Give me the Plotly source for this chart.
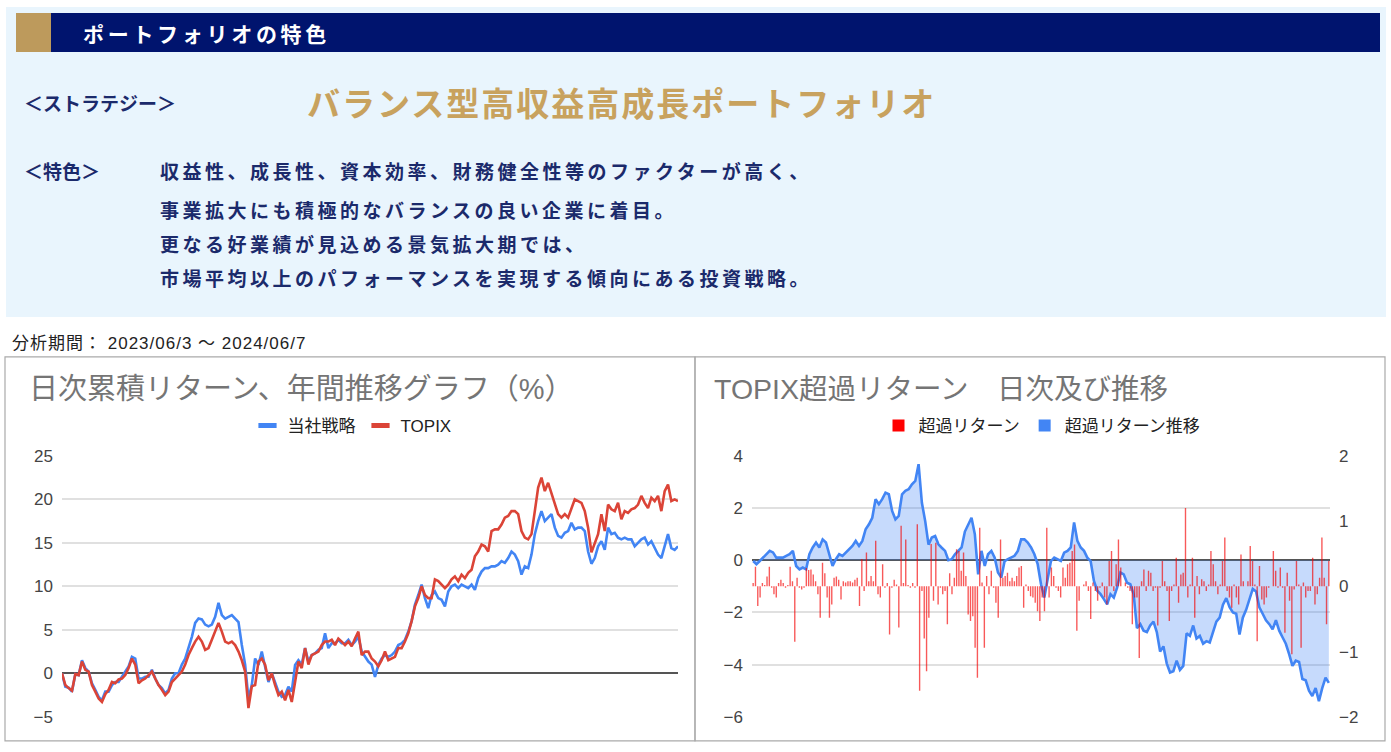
import numpy as np
import plotly.graph_objects as go

# ---------------- data ----------------
# 日次累積リターン (%) : 当社戦略 / TOPIX  (sampled along the year)
strategy = [
    0, -1.55, -1.65, -2.1, -0.1, -0.2, 1.5, 0.6, 0.2, -1.15,
    -1.9, -2.7, -3.1, -2.1, -2.1, -1.35, -1.0, -1.0, -0.4, 0.2,
    0.8, 1.9, 1.7, -0.6, -0.6, -0.4, -0.4, 0.4, -0.6, -1.35,
    -1.7, -2.3, -1.9, -0.6, 0, 0, 1.0, 1.7, 2.9, 4.2,
    5.8, 6.3, 6.2, 5.6, 5.4, 5.6, 6.5, 8.1, 6.7, 6.3,
    6.5, 6.7, 6.3, 5.9, 3.25, 1.0, -2.9, -1.35, 1.7, 0.95,
    2.5, 0.6, -1.0, 0, -1.0, -2.1, -2.7, -2.5, -1.55, -2.1,
    0.95, 1.5, 1.0, 2.9, 1.35, 2.1, 2.3, 2.7, 2.9, 4.6,
    2.9, 3.45, 3.45, 3.85, 3.45, 3.45, 3.85, 3.25, 3.65, 4.2,
    2.5, 1.9, 1.35, 1.0,
    -0.4, 0.95, 1.7, 2.1, 1.9, 2.1, 2.5, 3.25, 3.45, 3.85,
    4.8, 6.0, 7.9, 9.0, 10.2, 8.65, 7.5, 9.0, 9.4, 8.65,
    8.45, 7.7, 9.4, 10.0, 10.2, 9.8, 10.2, 10.0, 9.8, 10.2,
    9.6, 10.95, 11.7, 12.1, 12.1, 12.3, 12.3, 12.5, 12.9, 12.7,
    13.25, 14.0, 13.65, 12.9, 11.35, 12.3, 12.1, 13.65, 16.0, 17.5,
    18.65, 17.5, 17.9, 18.3, 16.75, 15.8, 15.6, 16.15, 16.35, 17.3,
    16.55, 16.75, 16.75, 16.35, 14.0, 12.6, 13.25, 14.6, 15.2, 14.2,
    16.75, 16.0, 16.15, 15.6, 15.4, 15.6, 15.4, 15.4, 14.6, 15.0,
    15.4, 15.6, 14.8, 15.2, 14.4, 13.65, 13.25, 14.8, 16.0, 14.4,
    14.2, 14.6,
]
topix = [
    0, -1.35, -1.7, -2.0, -0.1, -0.2, 1.35, 0.4, 0.2, -1.35,
    -2.1, -2.9, -3.3, -2.4, -1.9, -1.0, -1.15, -0.7, -0.6, -0.2,
    0.6, 1.7, 1.0, -1.15, -0.8, -0.6, -0.2, 0.2, -0.6, -1.35,
    -1.9, -2.5, -2.1, -1.0, -0.6, -0.2, 0.2, 1.0, 2.1, 2.9,
    3.65, 4.2, 3.65, 2.7, 2.9, 3.85, 4.8, 5.8, 4.8, 3.65,
    3.45, 3.65, 3.25, 2.5, 1.5, 0.2, -4.0, -1.5, -1.35, 1.35,
    1.7, 1.0, -0.8, 0, -1.35, -2.5, -2.1, -3.1, -1.9, -3.3,
    -1.0, 1.35, 0.6, 2.9, 1.0, 2.1, 2.3, 2.5, 3.25, 3.65,
    3.65, 3.85, 3.25, 4.0, 3.65, 3.25, 3.65, 3.1, 4.0, 4.8,
    2.1, 2.5, 2.5, 1.7,
    1.35, 0.8, 1.5, 2.5, 1.5, 1.7, 1.9, 2.9, 2.9, 3.65,
    4.6, 6.0, 7.7, 8.65, 10.0, 9.0, 8.65, 8.65, 10.8, 10.6,
    10.2, 9.8, 10.2, 10.8, 11.15, 10.6, 11.35, 10.95, 11.55, 11.9,
    13.45, 14.0, 14.8, 14.6, 14.0, 16.35, 16.55, 16.55, 17.1, 17.9,
    18.1, 18.65, 18.65, 18.3, 16.35, 15.6, 15.4, 16.0, 18.65, 21.35,
    22.5, 20.95, 21.9, 20.6, 19.4, 18.3, 17.9, 18.3, 17.9, 19.0,
    20.0, 19.8, 19.6, 18.65, 16.75, 13.9, 15.0, 16.0, 18.3, 16.35,
    19.4, 18.85, 18.65, 19.6, 17.7, 18.65, 18.45, 18.85, 19.0, 19.4,
    20.4, 19.6, 19.0, 20.2, 19.8, 20.4, 18.65, 20.95, 21.7, 19.8,
    20.0, 19.8,
]

# TOPIX超過リターン 推移 (left axis)
excess_trend = [
    -0.03, -0.15, -0.03, 0.1, 0.23, 0.36, 0.3, 0.1, 0.1, 0.1,
    0.17, 0.23, 0.36, -0.22, -0.35, -0.28, -0.35, 0.23, 0.49, 0.68,
    0.49, 0.8, 0.68, 0.23, -0.22, 0.04, 0.23, 0.17, 0.3, 0.42,
    0.55, 0.74, 0.55, 0.74, 1.19, 1.38, 1.63, 2.34, 2.15, 2.34,
    2.59, 2.53, 1.89, 1.57, 1.7, 2.53, 2.66, 2.72, 2.91, 3.04,
    3.68, 2.2, 1.5, 0.6, 0.87, 0.93, 0.61,
    0.48, 0.36, 0, 0.04, 0.23, 0.36, 0.49, 1.1, 1.38, 1.63,
    1.0, -0.54, 0.36, -0.22, 0.23, 0.36, 0.1, -0.47, -0.66, -0.03,
    0.04, 0.1, 0.17, 0.36, 0.8, 0.8, 0.68, 0.49, 0.23, -0.15,
    -0.92, -1.43, -0.73, -0.03, 0.1, 0.04, -0.03, 0.29, 0.36, 0.49,
    1.45, 0.74, 0.49, 0.36, 0.1, -0.03, -0.79, -1.17, -1.3, -1.49,
    -1.69, -1.3, -1.43, -1.05, -0.47, -0.54, -0.86, -0.92, -1.3, -2.6,
    -2.45, -2.7, -2.75, -2.5, -2.35, -2.75, -3.5, -3.3, -3.95, -4.3,
    -4.25, -3.85, -4.2, -4.05, -2.8, -2.9, -2.5, -3.0, -2.9, -3.2,
    -3.1, -3.15, -2.75, -2.35, -2.2, -1.7, -1.45, -1.8, -2.0, -2.05,
    -2.85, -2.2, -1.9, -1.45, -1.1, -1.2, -1.8, -2.05, -2.3, -2.45,
    -2.65, -2.3, -2.7, -2.95, -3.2, -3.6, -4.05, -3.85, -3.9, -4.55,
    -4.6, -5.0, -5.2, -4.9, -5.4, -4.9, -4.5, -4.7,
]

# 超過リターン 日次 (right axis), one per trading day
excess_daily = [
    0.05, 0.3, -0.3, -0.17, 0.05, 0.02, 0.15, 0.3, -0.02, -0.12,
    -0.17, 0.05, 0.1, 0.05, -0.02, 0.02, 0.3, 0.08, -0.85, 0.13,
    -0.02, -0.05, -0.02, 0.28, 0.25, 0.26, 0.18, 0.08, -0.12, -0.48,
    0.36, 0.2, -0.17, -0.48, -0.28, 0.13, 0.15, 0.1, -0.2, 0.08,
    0.06, 0.08, 0.08, 0.06, 0.1, 0.13, -0.3, 0.42, -0.07, 0.52,
    0.08, 0.16, 0.08, 0.7, -0.12, -0.17, 0.34, -0.02, 0.05, -0.74,
    -0.02, 0.1, 0.03, -0.63, 0.93, 0.05, 0.72, 0.02, -0.02, 0.05,
    -0.02, 0.95, -1.6, -0.07, -0.8, -1.3, -0.48, 0.65, -0.22, 0.67,
    -0.28, -0.02, -0.12, -0.07,
    -0.58, 0.2, -0.12, 0.13, 0.57, 0.54, 0.24, 0.52, 0.16, -0.43,
    -0.53, -0.46, -0.94, -1.4, 0.9, 0.06, -0.94, 0.16, -0.12, 0.24,
    -0.02, -0.25, -0.48, 0.72, 0.13, 0.16, 0.21, 0.08, 0.13, 0.08,
    0.16, 0.29, 0.31, -0.33, 0.03, -0.07, -0.15, -0.17, -0.25, -0.38,
    -0.53, -0.17, -0.38, 0.9, -0.17, 0.29, 0.16, -0.02, -0.07, -0.17,
    0.29, 0.13, 0.34, 0.36, 0.54, 0.64, -0.68, -0.22, 0.0, 0.03,
    0.08, -0.07, -0.5, 0.06, -0.07, -0.22, -0.02, 0.06, -0.17, -0.28,
    0.39, 0.54, -0.07, 0.34, 0.72, 0.29, 0.0, 0.06, -0.02, -0.07,
    -0.58, -0.17, -0.17, -1.1,
    0.08, 0.26, -0.07, 0.24, 0.21, -0.07, -0.02, -0.6, -0.02, 0.39,
    0.08, -0.07, -0.53, -0.07, 0.03, 0.44, -0.25, 0.18, 0.21, 1.2,
    -0.17, 0.03, 0.44, -0.48, 0.16, -0.12, 0.11, 0.08, -0.07, 0.03,
    0.54, 0.34, 0.08, -0.12, 0.03, 0.39, 0.75, -0.07, -0.17, -0.33,
    0.03, -0.17, -0.28, 0.49, 0.08, 0.0, 0.08, 0.62, 0.39, 0.03,
    -0.84, 0.31, -0.2, -0.28, -0.17, -0.02, 0.0, 0.54, 0.24, -0.02,
    0.29, -0.02, -0.71, 0.21, -0.22, -1.04, -0.05, 0.39, 0.03, -0.94,
    0.06, -0.17, -0.07, -0.07, 0.44, -0.28, -0.12, 0.13, 0.75, 0.13,
    -0.58, 0.39,
]

n_days = len(excess_daily)
days = np.arange(n_days)
left_x = np.linspace(0, n_days - 1, len(strategy))
trend_x = np.linspace(0, n_days - 1, len(excess_trend))

left_ticks = [-5, 0, 5, 10, 15, 20, 25]
right_left_ticks = [-6, -4, -2, 0, 2, 4]
right_right_ticks = [-2, -1, 0, 1, 2]

header_title = "ポートフォリオの特色"
strategy_label = "＜ストラテジー＞"
strategy_name = "バランス型高収益高成長ポートフォリオ"
feature_label = "＜特色＞"
feature_lines = [
    "収益性、成長性、資本効率、財務健全性等のファクターが高く、",
    "事業拡大にも積極的なバランスの良い企業に着目。",
    "更なる好業績が見込める景気拡大期では、",
    "市場平均以上のパフォーマンスを実現する傾向にある投資戦略。",
]
period_text = "分析期間： 2023/06/3 ～ 2024/06/7"
left_title = "日次累積リターン、年間推移グラフ（%）"
right_title = "TOPIX超過リターン　日次及び推移"

# ---------------- layout helpers ----------------
W, H = 1391, 752
def px(x):
    return x / W
def py(y):
    # vertical placement (pixel from top -> paper)
    yy = (y - 8) / 0.975
    yy = min(max(yy, -2), H + 2)
    return 1 - yy / H

JP = "Noto Sans CJK JP, sans-serif"
LAT = "Liberation Sans, Arial, Noto Sans CJK JP, sans-serif"
NAVY = "#1b2a6b"
BLUE = "#4285f4"
RED = "#db4437"

fig = go.Figure()

fig.add_trace(go.Scatter(x=left_x, y=strategy, mode="lines", name="当社戦略",
                         line=dict(color=BLUE, width=2.6), xaxis="x", yaxis="y",
                         showlegend=False))
fig.add_trace(go.Scatter(x=left_x, y=topix, mode="lines", name="TOPIX",
                         line=dict(color=RED, width=2.6), xaxis="x", yaxis="y",
                         showlegend=False))

fig.add_trace(go.Scatter(x=trend_x, y=excess_trend, mode="lines", name="超過リターン推移",
                         line=dict(color=BLUE, width=2.6), fill="tozeroy",
                         fillcolor="rgba(66,133,244,0.3)", xaxis="x2", yaxis="y2",
                         showlegend=False))
fig.add_trace(go.Bar(x=days, y=excess_daily, name="超過リターン",
                     marker=dict(color="rgba(245,0,0,0.65)", line=dict(width=0)),
                     width=0.6, xaxis="x2", yaxis="y3", showlegend=False))

# legend-only entries (Google-Charts style legend keys)
fig.add_trace(go.Scatter(x=[None], y=[None], mode="markers", name="当社戦略",
                         marker=dict(symbol="line-ew", size=13, line=dict(width=5, color=BLUE)),
                         xaxis="x", yaxis="y", legend="legend"))
fig.add_trace(go.Scatter(x=[None], y=[None], mode="markers", name="TOPIX",
                         marker=dict(symbol="line-ew", size=13, line=dict(width=5, color=RED)),
                         xaxis="x", yaxis="y", legend="legend"))
fig.add_trace(go.Scatter(x=[None], y=[None], mode="markers", name="超過リターン",
                         marker=dict(symbol="square", size=12, color="#ff0000"),
                         xaxis="x2", yaxis="y2", legend="legend2"))
fig.add_trace(go.Scatter(x=[None], y=[None], mode="markers", name="超過リターン推移",
                         marker=dict(symbol="square", size=12, color=BLUE),
                         xaxis="x2", yaxis="y2", legend="legend2"))

shapes = [
    dict(type="rect", xref="paper", yref="paper", x0=px(6), x1=px(1386), y0=py(316), y1=py(0),
         fillcolor="#e9f5fd", line=dict(width=0), layer="below"),
    dict(type="rect", xref="paper", yref="paper", x0=px(16), x1=px(1380), y0=py(51), y1=py(12),
         fillcolor="#00146e", line=dict(width=0), layer="below"),
    dict(type="rect", xref="paper", yref="paper", x0=px(16), x1=px(51), y0=py(51), y1=py(12),
         fillcolor="#bd9a5c", line=dict(width=0), layer="below"),
    dict(type="rect", xref="paper", yref="paper", x0=px(5), x1=px(695), y0=py(740), y1=py(356),
         fillcolor="rgba(0,0,0,0)", line=dict(color="#aaaaaa", width=1.2), layer="below"),
    dict(type="rect", xref="paper", yref="paper", x0=px(695), x1=px(1385), y0=py(740), y1=py(356),
         fillcolor="rgba(0,0,0,0)", line=dict(color="#aaaaaa", width=1.2), layer="below"),
]

def ann(text, x, y, size, color, family=JP, bold=False, spacing=0):
    t = f"<b>{text}</b>" if bold else text
    if spacing:
        t = f'<span style="letter-spacing:{spacing}px">{t}</span>'
    return dict(text=t, x=px(x), y=py(y), xref="paper", yref="paper", showarrow=False,
                xanchor="left", yanchor="middle", font=dict(size=size, color=color, family=family))

annotations = [
    ann(header_title, 81, 32, 21, "white", bold=True, spacing=3.7),
    ann(strategy_label, 22, 102, 19, NAVY, bold=True),
    ann(strategy_name, 305, 101, 33, "#c8a25e", bold=True, spacing=2),
    ann(feature_label, 22, 170, 19, NAVY, bold=True),
]
for line, yy in zip(feature_lines, [170, 209, 243, 277]):
    annotations.append(ann(line, 158, yy, 19, NAVY, bold=True, spacing=3.5))
annotations += [
    ann(period_text, 10, 343, 17, "#222222", family=LAT, spacing=1),
    ann(left_title, 27, 388, 29, "#757575", family=LAT),
    ann(right_title, 712, 388, 28.5, "#757575", family=LAT),
]

tickfont = dict(size=17, color="#444444", family=LAT)
ydom = [py(716), py(455)]
legfont = dict(size=17, color="#222222", family=LAT)

fig.update_layout(
    width=W, height=H, margin=dict(l=0, r=0, t=0, b=0),
    paper_bgcolor="white", plot_bgcolor="rgba(0,0,0,0)",
    shapes=shapes, annotations=annotations, barmode="overlay",
    xaxis=dict(domain=[px(62), px(678)], range=[0, n_days - 1], showgrid=False,
               showticklabels=False, zeroline=False, showline=False),
    yaxis=dict(domain=ydom, range=[-5, 25], tickvals=left_ticks, showgrid=True,
               gridcolor="#e0e0e0", gridwidth=1.5, zeroline=True, zerolinecolor="#555555",
               zerolinewidth=1.8, tickfont=tickfont, ticklabelstandoff=8, showline=False),
    xaxis2=dict(domain=[px(752), px(1330)], range=[-0.5, n_days - 0.5], showgrid=False,
                showticklabels=False, zeroline=False, showline=False),
    yaxis2=dict(domain=ydom, anchor="x2", range=[-6, 4], tickvals=right_left_ticks,
                showgrid=True, gridcolor="#e0e0e0", gridwidth=1.5, zeroline=True,
                zerolinecolor="#555555", zerolinewidth=1.8, tickfont=tickfont,
                ticklabelstandoff=8, showline=False),
    yaxis3=dict(domain=ydom, anchor="x2", overlaying="y2", side="right", range=[-2, 2],
                tickvals=right_right_ticks, showgrid=False, zeroline=False,
                tickfont=tickfont, ticklabelstandoff=8, showline=False),
    legend=dict(orientation="h", x=px(352), y=py(425), xanchor="center", yanchor="middle",
                font=legfont, bgcolor="rgba(0,0,0,0)", itemwidth=30),
    legend2=dict(orientation="h", x=px(1042), y=py(425), xanchor="center", yanchor="middle",
                 font=legfont, bgcolor="rgba(0,0,0,0)", itemwidth=30),
    showlegend=True,
)

fig.write_html("out.html", config={"displayModeBar": False},
               post_script="document.body.style.margin='0';document.body.style.overflow='hidden';")
